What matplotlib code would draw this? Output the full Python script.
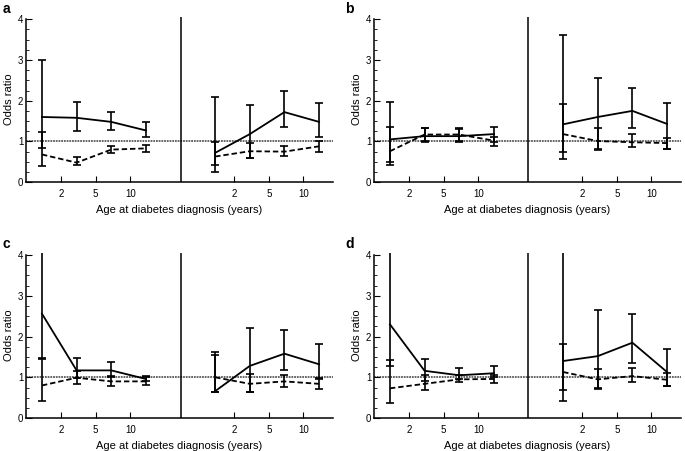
import matplotlib.pyplot as plt
from matplotlib.ticker import MultipleLocator

plt.rcParams['font.family'] = ['Liberation Sans', 'DejaVu Sans']

panel_names = ['a', 'b', 'c', 'd']
age_labels = ['2', '5', '10', '2', '5', '10']
age_pos = [0.55, 1.55, 2.55, 5.55, 6.55, 7.55]
# group index: 0-3 left half, 5-8 right half
group_pos = [0, 1, 2, 3, 5, 6, 7, 8]

or_solid = [
    [1.60, 1.58, 1.48, 1.27, 0.72, 1.18, 1.72, 1.48],
    [1.05, 1.13, 1.13, 1.18, 1.42, 1.60, 1.75, 1.43],
    [2.56, 1.17, 1.17, 0.96, 0.66, 1.28, 1.58, 1.32],
    [2.30, 1.16, 1.05, 1.10, 1.40, 1.52, 1.85, 1.13],
]
lo_solid = [
    [0.85, 1.25, 1.27, 1.10, 0.24, 0.60, 1.35, 1.12],
    [0.50, 0.98, 0.98, 0.98, 0.57, 0.78, 1.33, 0.82],
    [1.47, 0.98, 1.00, 0.92, 0.63, 0.65, 1.17, 0.95],
    [1.29, 0.92, 0.95, 1.00, 0.43, 0.75, 1.35, 0.78],
]
hi_solid = [
    [3.00, 1.97, 1.73, 1.47, 2.09, 1.89, 2.23, 1.94],
    [1.97, 1.33, 1.33, 1.36, 3.60, 2.56, 2.32, 1.94],
    [4.60, 1.48, 1.37, 1.02, 1.61, 2.20, 2.15, 1.82],
    [4.60, 1.45, 1.22, 1.27, 4.60, 2.66, 2.55, 1.69],
]
or_dashed = [
    [0.68, 0.48, 0.80, 0.83, 0.63, 0.76, 0.75, 0.88],
    [0.76, 1.17, 1.17, 1.02, 1.18, 1.01, 0.98, 0.96],
    [0.80, 0.99, 0.90, 0.90, 1.00, 0.84, 0.90, 0.84],
    [0.73, 0.84, 0.95, 0.96, 1.13, 0.95, 1.03, 0.94],
]
lo_dashed = [
    [0.39, 0.41, 0.72, 0.75, 0.41, 0.60, 0.65, 0.75],
    [0.42, 1.00, 1.00, 0.90, 0.74, 0.82, 0.86, 0.82],
    [0.43, 0.83, 0.78, 0.81, 0.65, 0.63, 0.76, 0.72],
    [0.37, 0.68, 0.88, 0.85, 0.70, 0.72, 0.88, 0.78],
]
hi_dashed = [
    [1.22, 0.61, 0.90, 0.92, 0.98, 0.97, 0.88, 1.02],
    [1.36, 1.32, 1.30, 1.12, 1.91, 1.32, 1.18, 1.08],
    [1.46, 1.15, 1.03, 1.03, 1.55, 1.09, 1.05, 0.98],
    [1.43, 1.05, 1.06, 1.05, 1.81, 1.20, 1.22, 1.10],
]

axes_rects = [
    [0.038, 0.596, 0.448, 0.366],
    [0.546, 0.596, 0.448, 0.366],
    [0.038, 0.073, 0.448, 0.366],
    [0.546, 0.073, 0.448, 0.366],
]
letter_xy = [(0.004, 0.995), (0.504, 0.995), (0.004, 0.475), (0.504, 0.475)]

fig = plt.figure(figsize=(6.85, 4.51), dpi=100)

for i in range(4):
    ax = fig.add_axes(axes_rects[i])
    for half in (slice(0, 4), slice(4, 8)):
        x = group_pos[half]
        for vals, lo, hi, ls in ((or_solid, lo_solid, hi_solid, '-'),
                                 (or_dashed, lo_dashed, hi_dashed, '--')):
            v = vals[i][half]
            err = [[a - b for a, b in zip(v, lo[i][half])],
                   [b - a for a, b in zip(v, hi[i][half])]]
            ax.plot(x, v, color='k', ls=ls, lw=1.3,
                    dashes=(3, 1.6) if ls == '--' else (None, None))
            ax.errorbar(x, v, yerr=err, fmt='none', ecolor='k',
                        elinewidth=1.2, capsize=3, capthick=1.2)

    ax.axhline(1, color='0.35', ls=(0, (1, 0.5)), lw=1.3, zorder=0)
    ax.axvline(4, color='k', lw=1.1)
    ax.set_xlim(-0.46, 8.4)
    ax.set_ylim(0, 4.05)
    ax.spines['top'].set_visible(False)
    ax.spines['right'].set_visible(False)
    ax.spines['left'].set_bounds(0, 4)
    ax.spines['left'].set_linewidth(1.1)
    ax.spines['bottom'].set_linewidth(1.1)
    ax.set_yticks([0, 1, 2, 3, 4])
    ax.yaxis.set_minor_locator(MultipleLocator(0.25))
    ax.set_xticks(age_pos)
    ax.set_xticklabels(age_labels)
    ax.tick_params(direction='in', labelsize=7, length=4, width=0.8, pad=5)
    ax.tick_params(axis='y', pad=2)
    ax.tick_params(which='minor', direction='in', length=2, width=0.6)
    ax.set_xlabel('Age at diabetes diagnosis (years)', fontsize=8, labelpad=4)
    ax.set_ylabel('Odds ratio', fontsize=8, labelpad=3)
    fig.text(letter_xy[i][0], letter_xy[i][1], panel_names[i],
             fontsize=10, fontweight='bold', va='top', ha='left')

fig.savefig('out.png', dpi=100)
